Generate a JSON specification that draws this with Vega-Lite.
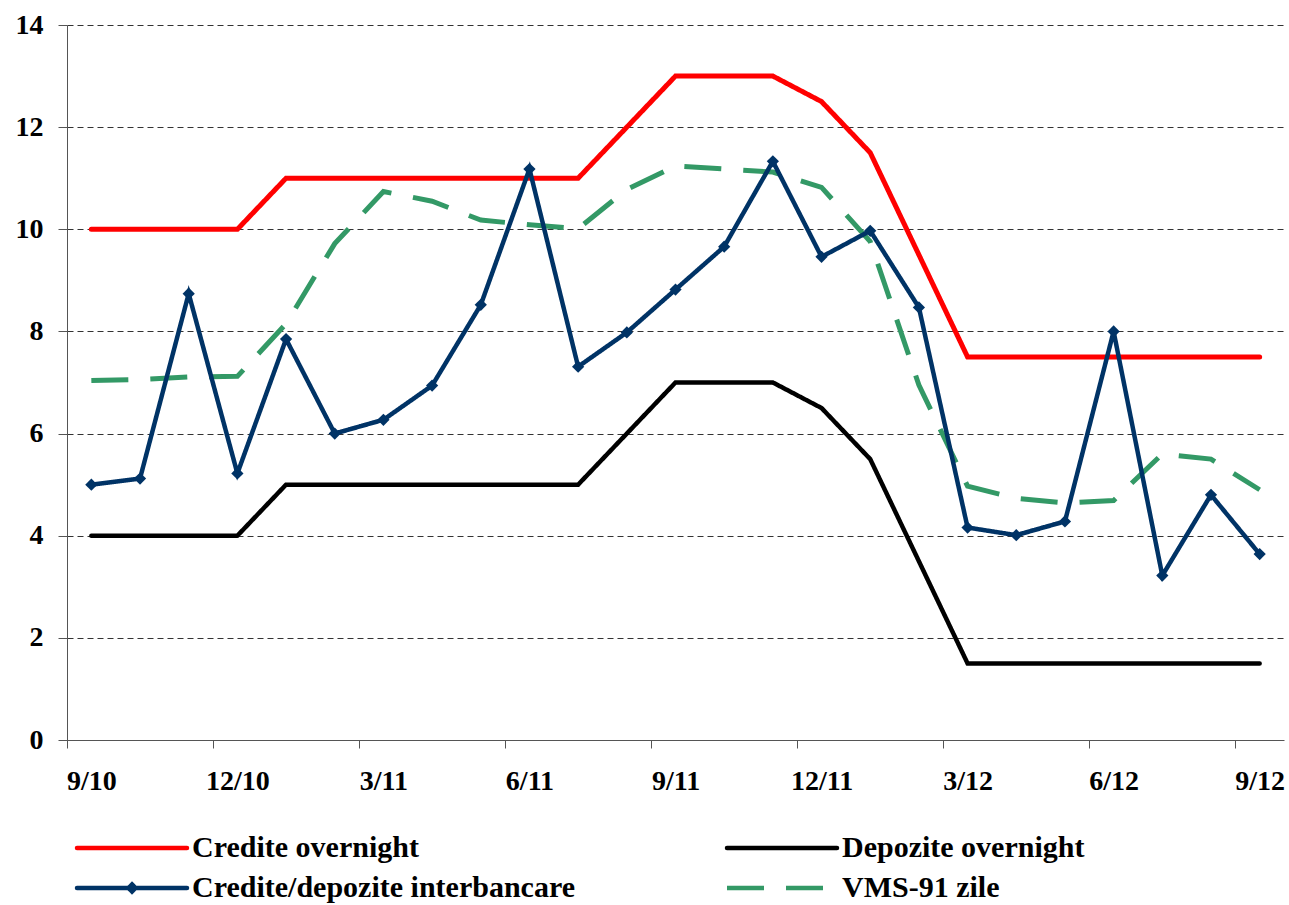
{
  "$schema": "https://vega.github.io/schema/vega-lite/v6.json",
  "width": 1217,
  "height": 715,
  "autosize": "none",
  "padding": {"left": 67, "top": 25, "right": 5, "bottom": 165},
  "background": "white",
  "config": {"view": {"stroke": null}},
  "datasets": {
    "red": [
      {"m": "9/10", "s": "Credite overnight", "v": 10},
      {"m": "10/10", "s": "Credite overnight", "v": 10},
      {"m": "11/10", "s": "Credite overnight", "v": 10},
      {"m": "12/10", "s": "Credite overnight", "v": 10},
      {"m": "1/11", "s": "Credite overnight", "v": 11},
      {"m": "2/11", "s": "Credite overnight", "v": 11},
      {"m": "3/11", "s": "Credite overnight", "v": 11},
      {"m": "4/11", "s": "Credite overnight", "v": 11},
      {"m": "5/11", "s": "Credite overnight", "v": 11},
      {"m": "6/11", "s": "Credite overnight", "v": 11},
      {"m": "7/11", "s": "Credite overnight", "v": 11},
      {"m": "8/11", "s": "Credite overnight", "v": 12},
      {"m": "9/11", "s": "Credite overnight", "v": 13},
      {"m": "10/11", "s": "Credite overnight", "v": 13},
      {"m": "11/11", "s": "Credite overnight", "v": 13},
      {"m": "12/11", "s": "Credite overnight", "v": 12.5},
      {"m": "1/12", "s": "Credite overnight", "v": 11.5},
      {"m": "2/12", "s": "Credite overnight", "v": 9.5},
      {"m": "3/12", "s": "Credite overnight", "v": 7.5},
      {"m": "4/12", "s": "Credite overnight", "v": 7.5},
      {"m": "5/12", "s": "Credite overnight", "v": 7.5},
      {"m": "6/12", "s": "Credite overnight", "v": 7.5},
      {"m": "7/12", "s": "Credite overnight", "v": 7.5},
      {"m": "8/12", "s": "Credite overnight", "v": 7.5},
      {"m": "9/12", "s": "Credite overnight", "v": 7.5}
    ],
    "black": [
      {"m": "9/10", "s": "Depozite overnight", "v": 4},
      {"m": "10/10", "s": "Depozite overnight", "v": 4},
      {"m": "11/10", "s": "Depozite overnight", "v": 4},
      {"m": "12/10", "s": "Depozite overnight", "v": 4},
      {"m": "1/11", "s": "Depozite overnight", "v": 5},
      {"m": "2/11", "s": "Depozite overnight", "v": 5},
      {"m": "3/11", "s": "Depozite overnight", "v": 5},
      {"m": "4/11", "s": "Depozite overnight", "v": 5},
      {"m": "5/11", "s": "Depozite overnight", "v": 5},
      {"m": "6/11", "s": "Depozite overnight", "v": 5},
      {"m": "7/11", "s": "Depozite overnight", "v": 5},
      {"m": "8/11", "s": "Depozite overnight", "v": 6},
      {"m": "9/11", "s": "Depozite overnight", "v": 7},
      {"m": "10/11", "s": "Depozite overnight", "v": 7},
      {"m": "11/11", "s": "Depozite overnight", "v": 7},
      {"m": "12/11", "s": "Depozite overnight", "v": 6.5},
      {"m": "1/12", "s": "Depozite overnight", "v": 5.5},
      {"m": "2/12", "s": "Depozite overnight", "v": 3.5},
      {"m": "3/12", "s": "Depozite overnight", "v": 1.5},
      {"m": "4/12", "s": "Depozite overnight", "v": 1.5},
      {"m": "5/12", "s": "Depozite overnight", "v": 1.5},
      {"m": "6/12", "s": "Depozite overnight", "v": 1.5},
      {"m": "7/12", "s": "Depozite overnight", "v": 1.5},
      {"m": "8/12", "s": "Depozite overnight", "v": 1.5},
      {"m": "9/12", "s": "Depozite overnight", "v": 1.5}
    ],
    "blue": [
      {"m": "9/10", "s": "Credite/depozite interbancare", "v": 5.0},
      {"m": "10/10", "s": "Credite/depozite interbancare", "v": 5.12},
      {"m": "11/10", "s": "Credite/depozite interbancare", "v": 8.74},
      {"m": "12/10", "s": "Credite/depozite interbancare", "v": 5.22},
      {"m": "1/11", "s": "Credite/depozite interbancare", "v": 7.85},
      {"m": "2/11", "s": "Credite/depozite interbancare", "v": 6.0},
      {"m": "3/11", "s": "Credite/depozite interbancare", "v": 6.27},
      {"m": "4/11", "s": "Credite/depozite interbancare", "v": 6.94},
      {"m": "5/11", "s": "Credite/depozite interbancare", "v": 8.52},
      {"m": "6/11", "s": "Credite/depozite interbancare", "v": 11.18},
      {"m": "7/11", "s": "Credite/depozite interbancare", "v": 7.31},
      {"m": "8/11", "s": "Credite/depozite interbancare", "v": 7.98},
      {"m": "9/11", "s": "Credite/depozite interbancare", "v": 8.82},
      {"m": "10/11", "s": "Credite/depozite interbancare", "v": 9.66},
      {"m": "11/11", "s": "Credite/depozite interbancare", "v": 11.33},
      {"m": "12/11", "s": "Credite/depozite interbancare", "v": 9.46},
      {"m": "1/12", "s": "Credite/depozite interbancare", "v": 9.97},
      {"m": "2/12", "s": "Credite/depozite interbancare", "v": 8.47},
      {"m": "3/12", "s": "Credite/depozite interbancare", "v": 4.16},
      {"m": "4/12", "s": "Credite/depozite interbancare", "v": 4.01},
      {"m": "5/12", "s": "Credite/depozite interbancare", "v": 4.28},
      {"m": "6/12", "s": "Credite/depozite interbancare", "v": 8.0},
      {"m": "7/12", "s": "Credite/depozite interbancare", "v": 3.22},
      {"m": "8/12", "s": "Credite/depozite interbancare", "v": 4.8},
      {"m": "9/12", "s": "Credite/depozite interbancare", "v": 3.64}
    ],
    "green": [
      {"m": "9/10", "s": "VMS-91 zile", "v": 7.04},
      {"m": "10/10", "s": "VMS-91 zile", "v": 7.06},
      {"m": "11/10", "s": "VMS-91 zile", "v": 7.11},
      {"m": "12/10", "s": "VMS-91 zile", "v": 7.12},
      {"m": "1/11", "s": "VMS-91 zile", "v": 8.15},
      {"m": "2/11", "s": "VMS-91 zile", "v": 9.72},
      {"m": "3/11", "s": "VMS-91 zile", "v": 10.74},
      {"m": "4/11", "s": "VMS-91 zile", "v": 10.55},
      {"m": "5/11", "s": "VMS-91 zile", "v": 10.18},
      {"m": "6/11", "s": "VMS-91 zile", "v": 10.09},
      {"m": "7/11", "s": "VMS-91 zile", "v": 10.01},
      {"m": "8/11", "s": "VMS-91 zile", "v": 10.78},
      {"m": "9/11", "s": "VMS-91 zile", "v": 11.24},
      {"m": "10/11", "s": "VMS-91 zile", "v": 11.18},
      {"m": "11/11", "s": "VMS-91 zile", "v": 11.12},
      {"m": "12/11", "s": "VMS-91 zile", "v": 10.82},
      {"m": "1/12", "s": "VMS-91 zile", "v": 9.76},
      {"m": "2/12", "s": "VMS-91 zile", "v": 6.95},
      {"m": "3/12", "s": "VMS-91 zile", "v": 4.97},
      {"m": "4/12", "s": "VMS-91 zile", "v": 4.73},
      {"m": "5/12", "s": "VMS-91 zile", "v": 4.64},
      {"m": "6/12", "s": "VMS-91 zile", "v": 4.69},
      {"m": "7/12", "s": "VMS-91 zile", "v": 5.6},
      {"m": "8/12", "s": "VMS-91 zile", "v": 5.5},
      {"m": "9/12", "s": "VMS-91 zile", "v": 4.9}
    ]
  },
  "encoding": {
    "x": {
      "field": "m",
      "type": "ordinal",
      "scale": {
        "type": "point",
        "padding": 0.5,
        "domain": ["9/10","10/10","11/10","12/10","1/11","2/11","3/11","4/11","5/11","6/11","7/11","8/11","9/11","10/11","11/11","12/11","1/12","2/12","3/12","4/12","5/12","6/12","7/12","8/12","9/12"]
      },
      "axis": {
        "title": null,
        "values": ["9/10","12/10","3/11","6/11","9/11","12/11","3/12","6/12","9/12"],
        "labelAngle": 0,
        "labelFont": "Liberation Serif",
        "labelFontSize": 28,
        "labelFontWeight": "bold",
        "labelColor": "black",
        "labelPadding": 19,
        "labelOffset": 24.34,
        "tickSize": 8,
        "tickColor": "#555555",
        "domainColor": "#555555",
        "tickOffset": -24.34,
        "grid": false
      }
    },
    "y": {
      "field": "v",
      "type": "quantitative",
      "scale": {"domain": [0, 14], "nice": false},
      "axis": {
        "title": null,
        "values": [0, 2, 4, 6, 8, 10, 12, 14],
        "labelFont": "Liberation Serif",
        "labelFontSize": 28,
        "labelFontWeight": "bold",
        "labelColor": "black",
        "labelPadding": 15,
        "tickSize": 9,
        "tickColor": "#555555",
        "domainColor": "#555555",
        "grid": true,
        "gridColor": "#333333",
        "gridDash": [6, 4],
        "gridWidth": 1
      }
    },
    "color": {
      "field": "s",
      "type": "nominal",
      "scale": {
        "domain": ["Credite overnight", "Depozite overnight", "Credite/depozite interbancare", "VMS-91 zile"],
        "range": ["#FF0000", "#000000", "#003366", "#339966"]
      },
      "legend": {
        "orient": "none",
        "direction": "horizontal",
        "legendX": 50,
        "legendY": 808,
        "columns": 2,
        "title": null,
        "padding": 0,
        "labelFont": "Liberation Serif",
        "labelFontSize": 30,
        "labelFontWeight": "bold",
        "labelColor": "black",
        "labelLimit": 1000,
        "symbolSize": 400,
        "symbolStrokeWidth": 4.5,
        "labelOffset": 45,
        "columnPadding": 143,
        "rowPadding": 10,
        "encode": {
          "symbols": {
            "update": {
              "shape": {"signal": "datum.value === 'Credite/depozite interbancare' ? 'M-5.5,0L5.5,0M0,-0.35L0.35,0L0,0.35L-0.35,0Z' : 'M-5.5,0L5.5,0'"},
              "fill": {"signal": "datum.value === 'Credite/depozite interbancare' ? '#003366' : 'transparent'"},
              "strokeCap": {"signal": "datum.value === 'VMS-91 zile' ? 'butt' : 'round'"}
            }
          }
        }
      }
    },
    "strokeDash": {
      "field": "s",
      "type": "nominal",
      "scale": {
        "domain": ["Credite overnight", "Depozite overnight", "Credite/depozite interbancare", "VMS-91 zile"],
        "range": [[1, 0], [1, 0], [1, 0], [37, 22]]
      }
    }
  },
  "layer": [
    {"data": {"name": "red"}, "mark": {"type": "line", "strokeWidth": 5, "strokeCap": "round"}},
    {"data": {"name": "black"}, "mark": {"type": "line", "strokeWidth": 4.5, "strokeCap": "round"}},
    {"data": {"name": "green"}, "mark": {"type": "line", "strokeWidth": 5, "strokeCap": "butt"}},
    {"data": {"name": "blue"}, "mark": {"type": "line", "strokeWidth": 4.5, "strokeCap": "round"}},
    {
      "data": {"name": "blue"},
      "mark": {"type": "point", "shape": "diamond", "filled": true, "size": 150, "opacity": 1},
      "encoding": {"color": {"value": "#003366"}, "strokeDash": {"value": [1, 0]}}
    }
  ]
}
